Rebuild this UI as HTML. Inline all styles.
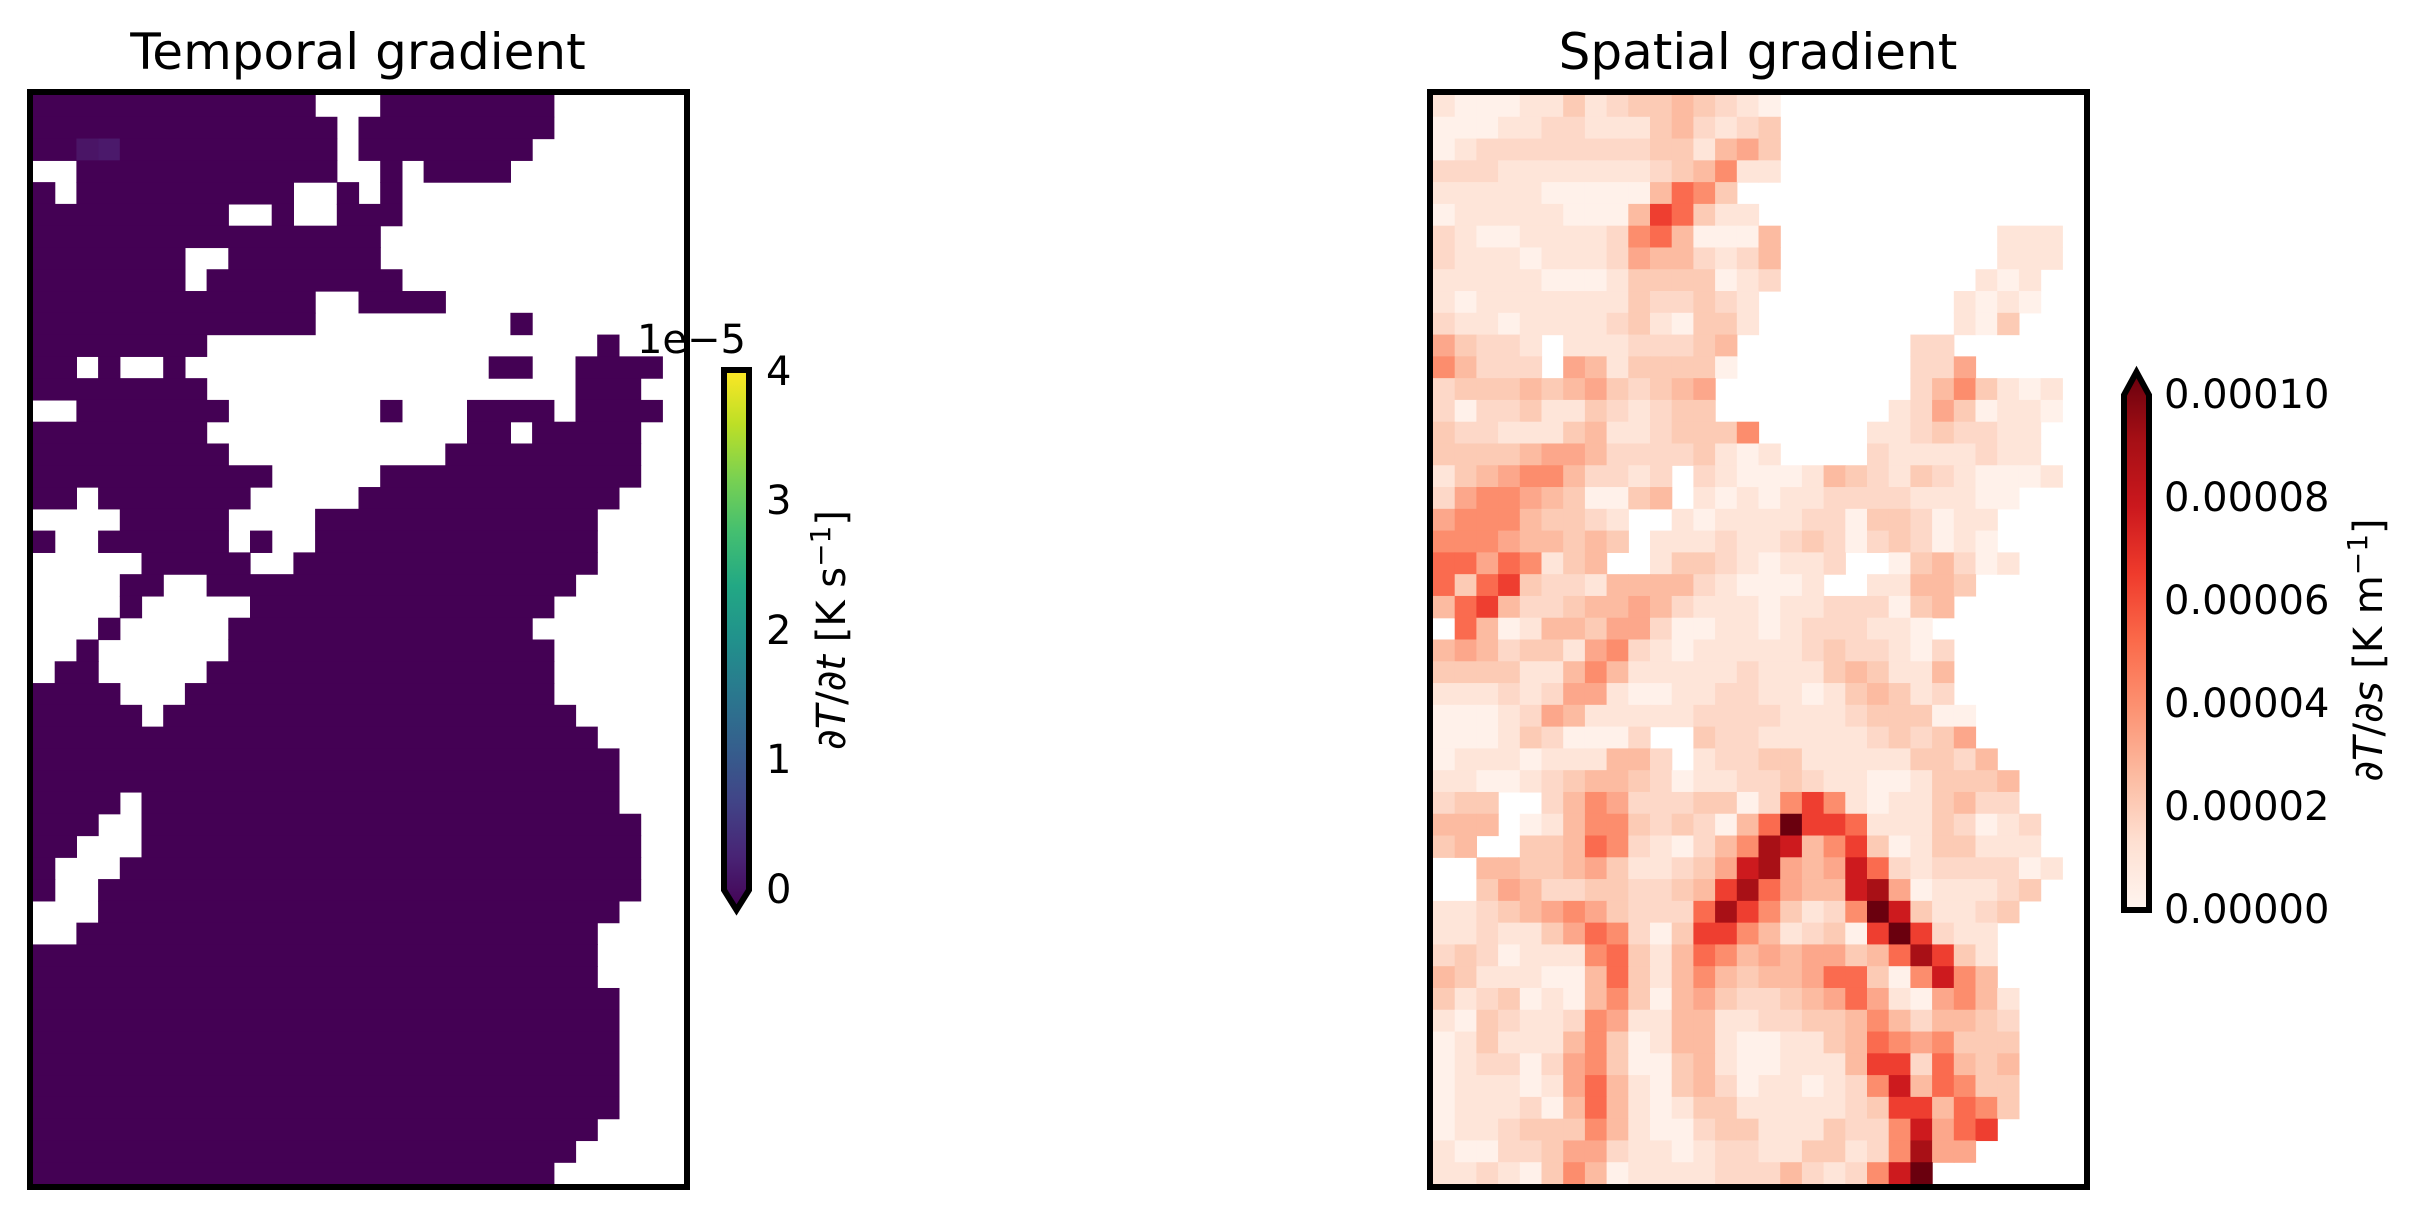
<!DOCTYPE html>
<html><head><meta charset="utf-8"><style>
html,body{margin:0;padding:0;background:#fff;}
svg{display:block;font-family:"DejaVu Sans","Liberation Sans",sans-serif;}
</style></head><body>
<svg id="s" width="2427" height="1217" xmlns="http://www.w3.org/2000/svg">
<defs>
<linearGradient id="vir" x1="0" y1="1" x2="0" y2="0">
<stop offset="0" stop-color="#440154"/><stop offset="0.1" stop-color="#482475"/>
<stop offset="0.2" stop-color="#414487"/><stop offset="0.3" stop-color="#355f8d"/>
<stop offset="0.4" stop-color="#2a788e"/><stop offset="0.5" stop-color="#21918c"/>
<stop offset="0.6" stop-color="#22a884"/><stop offset="0.7" stop-color="#44bf70"/>
<stop offset="0.8" stop-color="#7ad151"/><stop offset="0.9" stop-color="#bddf26"/>
<stop offset="1" stop-color="#fde725"/></linearGradient>
<linearGradient id="red" x1="0" y1="1" x2="0" y2="0">
<stop offset="0" stop-color="#fff5f0"/><stop offset="0.125" stop-color="#fee0d2"/>
<stop offset="0.25" stop-color="#fcbba1"/><stop offset="0.375" stop-color="#fc9272"/>
<stop offset="0.5" stop-color="#fb6a4a"/><stop offset="0.625" stop-color="#ef3b2c"/>
<stop offset="0.75" stop-color="#cb181d"/><stop offset="0.875" stop-color="#a50f15"/>
<stop offset="1" stop-color="#67000d"/></linearGradient>
</defs>
<g id="L"></g><g id="R"></g>
<rect x="30" y="92" width="657" height="1095" fill="none" stroke="#000" stroke-width="6"/>
<rect x="1430" y="92" width="657" height="1095" fill="none" stroke="#000" stroke-width="6"/>
<text x="358" y="69" font-size="50" text-anchor="middle">Temporal gradient</text>
<text x="1758" y="69" font-size="50" text-anchor="middle">Spatial gradient</text>
<path d="M724,370 L749,370 L749,890 L736.5,910 L724,890 Z" fill="url(#vir)" stroke="#000" stroke-width="6"/>
<g font-size="40" dominant-baseline="central">
<text x="766" y="372">4</text><text x="766" y="501">3</text><text x="766" y="631">2</text><text x="766" y="760">1</text><text x="766" y="890">0</text>
</g>
<text x="746" y="353" font-size="40" text-anchor="end">1e−5</text>
<text transform="translate(845,630) rotate(-90)" font-size="40" text-anchor="middle">∂<tspan font-style="italic">T</tspan>/∂<tspan font-style="italic">t</tspan> [K s<tspan font-size="28" dy="-15">−1</tspan><tspan dy="15">]</tspan></text>
<path d="M2124,910 L2149,910 L2149,395 L2136.5,372 L2124,395 Z" fill="url(#red)" stroke="#000" stroke-width="6"/>
<g font-size="40" dominant-baseline="central">
<text x="2164" y="395">0.00010</text><text x="2164" y="498">0.00008</text><text x="2164" y="601">0.00006</text><text x="2164" y="704">0.00004</text><text x="2164" y="807">0.00002</text><text x="2164" y="910">0.00000</text>
</g>
<text transform="translate(2382,650) rotate(-90)" font-size="40" text-anchor="middle">∂<tspan font-style="italic">T</tspan>/∂<tspan font-style="italic">s</tspan> [K m<tspan font-size="28" dy="-15">−1</tspan><tspan dy="15">]</tspan></text>
</svg>
<script>
var NS="http://www.w3.org/2000/svg";
var W=651/30,H=1089/50;
function rect(g,x,y,w,h,c){var r=document.createElementNS(NS,"rect");r.setAttribute("x",x);r.setAttribute("y",y);r.setAttribute("width",w);r.setAttribute("height",h);r.setAttribute("fill",c);g.appendChild(r);}
var L=[[[0,13],[16,24]],[[0,14],[15,24]],[[0,14],[15,23]],[[2,14],[16,17],[18,22]],[[0,1],[2,12],[14,15],[16,17]],[[0,9],[11,12],[14,17]],[[0,16]],[[0,7],[9,16]],[[0,7],[8,17]],[[0,13],[15,19]],[[0,13],[22,23]],[[0,8],[26,27]],[[0,2],[3,4],[6,7],[21,23],[25,29]],[[0,8],[25,28]],[[2,9],[16,17],[20,24],[25,29]],[[0,8],[20,22],[23,28]],[[0,9],[19,28]],[[0,11],[16,28]],[[0,2],[3,10],[15,27]],[[4,9],[13,26]],[[0,1],[3,9],[10,11],[13,26]],[[5,10],[12,26]],[[4,6],[8,25]],[[4,5],[10,24]],[[3,4],[9,23]],[[2,3],[9,24]],[[1,3],[8,24]],[[0,4],[7,24]],[[0,5],[6,25]],[[0,26]],[[0,27]],[[0,27]],[[0,4],[5,27]],[[0,3],[5,28]],[[0,2],[5,28]],[[0,1],[4,28]],[[0,1],[3,28]],[[3,27]],[[2,26]],[[0,26]],[[0,26]],[[0,27]],[[0,27]],[[0,27]],[[0,27]],[[0,27]],[[0,27]],[[0,26]],[[0,25]],[[0,24]]];
var gl=document.getElementById("L");
L.forEach(function(row,r){row.forEach(function(s){rect(gl,33+s[0]*W,95+r*H,(s[1]-s[0])*W+0.6,H+0.6,"#440154");});});
rect(gl,33+2*W,95+2*H,W,H,"#4a1566");rect(gl,33+3*W,95+2*H,W,H,"#4b196b");
var R=[
"1000113123343210..............",
"0001122111342123..............",
"0122222222331453..............",
"2221111111234611..............",
"1111100000476 3...............",
"011111000487311...............",
"210011112674000 4..........111",
"2111011125442124..........111.",
"1111100013333012.........101..",
"101111111322321.........1010..",
"211011112310331.........103...",
"53221.11122234........22......",
"64222.54133330........225.....",
"2333434532345.........2463101.",
"2022311321233........12530110.",
"322111341123336.....11232211..",
"3333455422223101....21111211..",
"13456642212.21000143213210001..",
"2566543003 4.101011222211100...",
"566643321..101111220332011....",
"666544343.111211232023201 0...",
"77576134..133210112..0342 01..",
"73783221444421000 1..11443.....",
"478422344542111011222034......",
".740144355200110122211 0......",
"454233156210111112322102......",
"333311464111112111343114......",
"111212551001122110134312......",
"000125411111222211123330 0....",
"000132000 2..3221111123235....",
"0111011144 2.12233111113324...",
"11001234432011223211001333 4...",
"233..2465222330268610113422...",
"444.01466323204 7B88711132012..",
"34..33476210246A94683013311 1..",
"..443345311235 9A5459721222201..",
"..35422332234 8A7544 9A50111 23..",
"11234565322 2 7A863126B9311 23...",
"1121135762038864123 08B8211....",
"2320111673147645455347A831....",
"4311100473146434457730696 4....",
"3123010463045322345751056 41...",
"1032112651144112233464244 32...",
"0131114630144100113476563 33...",
"0122025630034100111488274 34...",
"0111015741034201101269476 33...",
"0111204741013311111238847 63...",
"0112333641002331113226957 8....",
"100223552110122113312 6A55.....",
"1121036401111222421269B......."];
var C={"0":"#fff1ea","1":"#fee5d9","2":"#fdd8c8","3":"#fccbb5","4":"#fcbba1","5":"#fca78b","6":"#fc8d6d","7":"#fa6b4f","8":"#ee3e30","9":"#cd1a1e","A":"#a81016","B":"#6a000e"};
var gr=document.getElementById("R");
R.forEach(function(s,r){s=s.replace(/ /g,"");for(var c=0;c<30&&c<s.length;c++){var k=s[c];if(C[k])rect(gr,1433+c*W,95+r*H,W+0.6,H+0.6,C[k]);}});
</script>
</body></html>
